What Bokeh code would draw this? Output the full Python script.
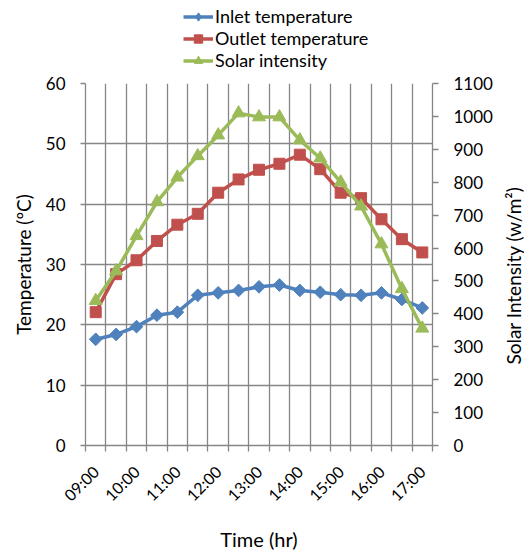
import math
from bokeh.plotting import figure
from bokeh.layouts import column, row
from bokeh.models import Range1d, LinearAxis, FixedTicker, Legend, LegendItem, Title
from bokeh.embed import file_html
from bokeh.resources import INLINE

times = ["09:00", "09:30", "10:00", "10:30", "11:00", "11:30", "12:00", "12:30", "13:00",
         "13:30", "14:00", "14:30", "15:00", "15:30", "16:00", "16:30", "17:00"]
inlet = [17.6, 18.4, 19.7, 21.6, 22.1, 24.9, 25.3, 25.7, 26.3, 26.6, 25.7, 25.4, 25.0, 24.9, 25.3, 24.2, 22.8]
outlet = [22.1, 28.4, 30.7, 33.9, 36.6, 38.4, 41.9, 44.1, 45.7, 46.7, 48.2, 45.8, 41.9, 41.0, 37.5, 34.2, 32.0]
solar = [440, 530, 637, 740, 815, 880, 943, 1010, 998, 998, 928, 873, 800, 727, 612, 476, 356]
series_names = ["Inlet temperature", "Outlet temperature", "Solar intensity"]
temp_ticks = [0, 10, 20, 30, 40, 50, 60]
solar_ticks = [0, 100, 200, 300, 400, 500, 600, 700, 800, 900, 1000, 1100]
x_title = "Time (hr)"
y_title = "Temperature (ºC)"
y2_title = "Solar Intensity (w/m²)"

x = list(range(1, len(times) + 1))
FONT = "Lato"
GRID = "#868686"
BLUE, RED, GREEN = "#4F81BD", "#C0504D", "#9BBB59"
W = 524
RT_W = 24

p = figure(width=W - RT_W, height=481, output_backend="svg", toolbar_location=None,
           x_range=Range1d(0.5, len(times) + 0.5), y_range=Range1d(temp_ticks[0], temp_ticks[-1]),
           min_border_left=85, min_border_right=92 - RT_W, min_border_top=10, min_border_bottom=106)
p.extra_y_ranges = {"solar": Range1d(solar_ticks[0], solar_ticks[-1])}
p.outline_line_color = None
p.frame_align = False

# x axis
xt = FixedTicker(ticks=x[::2], minor_ticks=[i + 0.5 for i in range(0, len(times) + 1)])
p.xaxis.ticker = xt
p.xaxis.major_label_overrides = {x[i]: times[i] for i in range(0, len(times), 2)}
p.xaxis.major_label_orientation = math.pi / 4
p.xaxis.major_tick_out = 0
p.xaxis.major_tick_in = 0
p.xaxis.minor_tick_out = 6
p.xaxis.minor_tick_in = 0
p.xaxis.axis_label = x_title
p.xaxis.major_label_standoff = 17
p.xaxis.axis_label_standoff = 13
p.xgrid.ticker = xt
p.xgrid.grid_line_color = None
p.xgrid.minor_grid_line_color = GRID
p.xgrid.minor_grid_line_width = 1.3

# left y axis
yt = FixedTicker(ticks=temp_ticks)
p.yaxis.ticker = yt
p.yaxis.axis_label = y_title
p.yaxis.major_tick_out = 5
p.yaxis.major_tick_in = 0
p.yaxis.minor_tick_line_color = None
p.yaxis.major_label_standoff = 15
p.yaxis.axis_label_standoff = 8
p.ygrid.ticker = yt
p.ygrid.grid_line_color = GRID
p.ygrid.grid_line_width = 1.3

# right y axis (its title is drawn in a narrow strip to the right, reading bottom-to-top)
ra = LinearAxis(y_range_name="solar", ticker=FixedTicker(ticks=solar_ticks))
ra.major_tick_out = 6
ra.major_tick_in = 0
ra.minor_tick_line_color = None
ra.major_label_standoff = 15
p.add_layout(ra, "right")

for ax in [p.xaxis[0], p.yaxis[0], ra]:
    ax.axis_line_color = GRID
    ax.axis_line_width = 1.3
    ax.major_tick_line_color = GRID
    ax.major_tick_line_width = 1.3
    ax.major_label_text_font = FONT
    ax.major_label_text_font_size = "17px"
    ax.major_label_text_color = "black"
    ax.axis_label_text_font = FONT
    ax.axis_label_text_font_size = "19px"
    ax.axis_label_text_font_style = "normal"
    ax.axis_label_text_color = "black"
p.xaxis.major_label_text_font_size = "16px"
p.xaxis.axis_label_text_font_size = "20px"
p.xaxis.minor_tick_line_color = GRID
p.xaxis.minor_tick_line_width = 1.3

p.line(x, inlet, line_color=BLUE, line_width=3.5)
p.scatter(x, inlet, marker="square", angle=math.pi / 4, size=9, fill_color=BLUE, line_color=BLUE)
p.line(x, outlet, line_color=RED, line_width=3.5)
p.scatter(x, outlet, marker="square", size=11, fill_color=RED, line_color=RED)
p.line(x, solar, line_color=GREEN, line_width=3.5, y_range_name="solar")
p.scatter(x, solar, marker="triangle", size=13, fill_color=GREEN, line_color=GREEN, y_range_name="solar")

# narrow strip holding the right-hand axis title
rt = figure(width=RT_W, height=481, output_backend="svg", toolbar_location=None,
            x_range=Range1d(0, 1), y_range=Range1d(0, 1), x_axis_type=None, y_axis_type=None,
            min_border_left=0, min_border_right=0, min_border_top=10, min_border_bottom=87)
rt.outline_line_color = None
rt.grid.visible = False
rt.frame_align = False
rt.add_layout(Title(text=y2_title, align="center", text_font=FONT, text_font_size="19px",
                    text_font_style="normal", text_color="black", standoff=0, offset=0), "left")

# legend strip above the chart (same series, drawn out of view; only the legend shows)
lg = figure(width=W, height=73, output_backend="svg", toolbar_location=None,
            x_range=Range1d(-20, -19), y_range=Range1d(-20, -19), x_axis_type=None, y_axis_type=None,
            min_border=0)
lg.outline_line_color = None
lg.grid.visible = False
lg.frame_align = False
items = []
for name, ys, color, marker, size in [(series_names[0], inlet, BLUE, "diamond", 14),
                                      (series_names[1], outlet, RED, "square", 11),
                                      (series_names[2], solar, GREEN, "triangle", 13)]:
    r1 = lg.line(x, ys, line_color=color, line_width=3.5)
    r2 = lg.scatter(x, ys, marker=marker, size=size, fill_color=color, line_color=color)
    items.append(LegendItem(label=name, renderers=[r1, r2]))
legend = Legend(items=items, location=(183, 2))
legend.label_text_font = FONT
legend.label_text_font_size = "18px"
legend.label_text_color = "black"
legend.label_height = 21
legend.glyph_height = 21
legend.glyph_width = 30
legend.spacing = 0
legend.padding = 0
legend.margin = 0
legend.label_standoff = 2
legend.background_fill_alpha = 0
legend.border_line_color = None
lg.add_layout(legend, "center")

layout = column(lg, row(p, rt, spacing=0), spacing=0)
open("out.html", "w").write(file_html(layout, INLINE))
